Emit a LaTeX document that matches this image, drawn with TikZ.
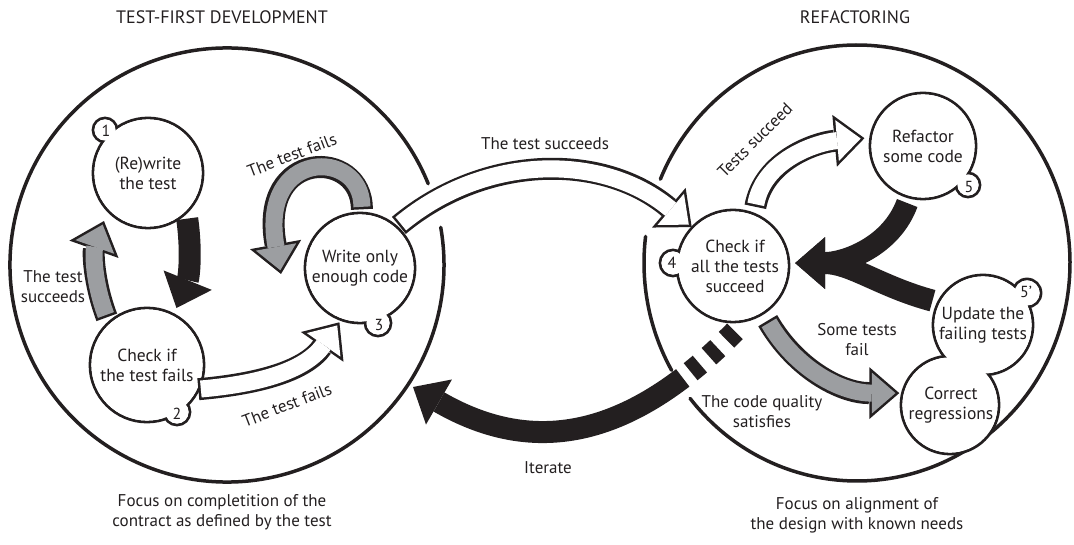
\documentclass[tikz,border=0pt]{standalone}
\usepackage{fontspec}
\setmainfont{PT Sans}
\usetikzlibrary{arrows.meta}
\definecolor{ink}{HTML}{231F20}
\definecolor{arrowgray}{HTML}{9C9EA1}
\tikzset{
  ring/.style={line width=3.5pt, draw=ink, line cap=round},
  stage/.style={circle, minimum size=#1, inner sep=-4pt, align=center, text=ink, font=\fontsize{17.5}{20}\selectfont},
  tag/.style={text=ink, font=\fontsize{16}{16}\selectfont},
  lbl/.style={align=center, text=ink, font=\fontsize{17}{20}\selectfont},
  title/.style={text=ink, font=\fontsize{18}{20}\selectfont},
  fatarrow/.style n args={3}{line width=17pt, draw=#1, shorten <=#2, shorten >=#3+3.8pt,
    -{Triangle[length=23.7pt, width=41pt, line width=0pt]},
    preaction={draw=ink, line width=22pt, shorten <=#2-2.5pt, shorten >=#3,
      -{Triangle[length=30pt, width=52pt, line width=0pt]}}},
  blackarrow/.style n args={2}{line width=22pt, draw=ink, shorten <=#1, shorten >=#2,
    -{Triangle[length=30pt, width=52pt, line width=0pt]}},
}
\begin{document}
\begin{tikzpicture}[x=1pt, y=1pt]
  \useasboundingbox (0,0) rectangle (1074,544);
  \coordinate (tfd) at (227,279);
  \coordinate (refa) at (857,281);
  \coordinate (loopend) at (281,270);
  \coordinate (itertip) at (413,157);

  % the two phases
  \draw[ring] (tfd) ++(22:217) arc[start angle=22, end angle=370, radius=217];
  \draw[ring] (refa) ++(173:213 and 218) arc[start angle=173, end angle=209.5, x radius=213, y radius=218];
  \draw[ring] (refa) ++(218.4:213 and 218) arc[start angle=218.4, end angle=517.4, x radius=213, y radius=218];

  % steps with their number bubbles: outlines first, then the white insides
  \foreach \x/\y/\r in {148/371/55, 105/414/12, 147/179/57, 177/132/13, 360/276/55, 378/221/13,
      733/278/56, 673/281/13, 923/398/53, 968/359/12, 983/219/50, 1027/251/14, 950/139/49}
    \draw[line width=2.8pt, draw=ink] (\x,\y) circle (\r);
  \foreach \x/\y/\r in {148/371/55, 105/414/12, 147/179/57, 177/132/13, 360/276/55, 378/221/13,
      733/278/56, 673/281/13, 923/398/53, 968/359/12, 983/219/50, 1027/251/14, 950/139/49}
    \fill[white] (\x,\y) circle ({\r-1.4});

  \node[stage=110pt] (s1) at (148,371) {(Re)write\\the test};
  \node[stage=114pt] (s2) at (147,179) {Check if\\the test fails};
  \node[stage=110pt] (s3) at (360,276) {Write only\\enough code};
  \node[stage=112pt] (s4) at (735,278) {Check if\\all the tests\\succeed};
  \node[stage=106pt] (s5) at (923,398) {Refactor\\some code};
  \node[stage=100pt] (s6) at (983,219) {Update the\\failing tests};
  \node[stage=98pt] (s7) at (951,139) {Correct\\regressions};
  \node[tag] (n1) at (106,413) {1};
  \node[tag] (n2) at (177,130) {2};
  \node[tag] (n3) at (379,219) {3};
  \node[tag] (n4) at (672,281) {4};
  \node[tag] (n5) at (969,357) {5};
  \node[tag] (n6) at (1026,252) {5'};

  % test-first development
  \draw[fatarrow={arrowgray}{8pt}{11pt}] (s2.132) to[bend left=20] (s1.223);
  \draw[blackarrow={6pt}{7pt}] (s1.314) to[bend left=15] (s2.62);
  \draw[fatarrow={arrowgray}{6pt}{0pt}] (s3.88) .. controls (362,396) and (258,396) .. (loopend);
  \draw[fatarrow={white}{2pt}{3pt}] (s2.-25) to[out=5, in=235] (s3.250);

  % between the phases
  \draw[fatarrow={white}{5pt}{2pt}] (s3.48) to[bend left=40] (s4.138);
  \draw[blackarrow={14pt}{0pt}, dash pattern=on 12pt off 12pt on 12pt off 12pt on 12pt off 10pt on 2000pt off 1pt]
    (s4.280) .. controls (639,115) and (543,82) .. (itertip);

  % refactoring
  \draw[fatarrow={white}{9pt}{6pt}] (s4.70) to[out=80, in=185] (s5.171);
  \draw[blackarrow={6pt}{4pt}] (s5.255) to[out=250, in=0] (s4.3);
  \draw[blackarrow={6pt}{4pt}] (s6.153) to[out=165, in=0] (s4.3);
  \draw[fatarrow={arrowgray}{10pt}{4pt}] (s4.-59) to[out=-60, in=180] (s7.166);

  \node[title] (tfdtitle) at (222,527) {TEST-FIRST DEVELOPMENT};
  \node[title] (refatitle) at (855,527) {REFACTORING};
  \node[lbl, rotate=21] (failsloop) at (292,389) {The test fails};
  \node[lbl] (succleft) at (53,257) {The test\\succeeds};
  \node[lbl, rotate=21] (failsbottom) at (287,139) {The test fails};
  \node[lbl] (succtop) at (545,400) {The test succeeds};
  \node[lbl, rotate=45] (succright) at (755,404) {Tests succeed};
  \node[lbl] (somefail) at (857,204) {Some tests\\fail};
  \node[lbl] (quality) at (762,132) {The code quality\\satisfies};
  \node[lbl] (iterate) at (548,76) {Iterate};
  \node[lbl] (focusleft) at (222,32) {Focus on completition of the\\contract as defined by the test};
  \node[lbl] (focusright) at (857,29) {Focus on alignment of\\the design with known needs};
\end{tikzpicture}
\end{document}
